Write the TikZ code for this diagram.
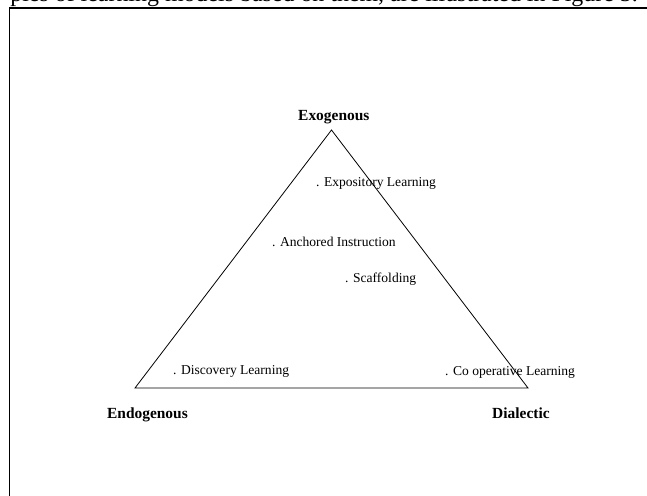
\documentclass[tikz,border=0pt]{standalone}
\usepackage{fontspec}
\setmainfont{Liberation Serif}
\begin{document}
\begin{tikzpicture}[x=1bp,y=-1bp,
  corner/.style={font=\bfseries\fontsize{15.5}{18}\selectfont,inner sep=0pt},
  item/.style={font=\fontsize{13.6}{16}\selectfont,inner sep=0pt,anchor=base west},
  side/.style={line width=0.8bp,black},
  frame/.style={line width=1.6bp,black}]
  \useasboundingbox (0,0) rectangle (647,496);
  \clip (0,0) rectangle (647,496);

  % running text above the figure box
  \node[font=\fontsize{24}{28}\selectfont,inner sep=0pt,anchor=base east] (txt)
    at (638,2) {ples of learning models based on them, are illustrated in Figure 5.};

  % figure box (left and top edges)
  \coordinate (ftl) at (9.5,8);
  \coordinate (fbl) at (9.5,500);
  \coordinate (ftr) at (650,8);
  \draw[frame] (fbl) -- (ftl) -- (ftr);

  % triangle of the three learning poles
  \coordinate (ex) at (331.5,130);
  \coordinate (en) at (135,388);
  \coordinate (di) at (528,388);
  \draw[side] (ex) -- (en) -- (di) -- cycle;

  \node[corner,anchor=base west] (lex) at (298,120.5) {Exogenous};
  \node[corner,anchor=base east] (len) at (188,418) {Endogenous};
  \node[corner,anchor=base west] (ldi) at (492,418) {Dialectic};

  % learning models placed inside the triangle
  \node[item] (expo) at (316,187) {. Expository Learning};
  \node[item] (anch) at (272,247) {. Anchored Instruction};
  \node[item] (scaf) at (345,282) {. Scaffolding};
  \node[item] (disc) at (173,374.5) {. Discovery Learning};
  \node[item] (coop) at (445,375) {. Co operative Learning};
\end{tikzpicture}
\end{document}
